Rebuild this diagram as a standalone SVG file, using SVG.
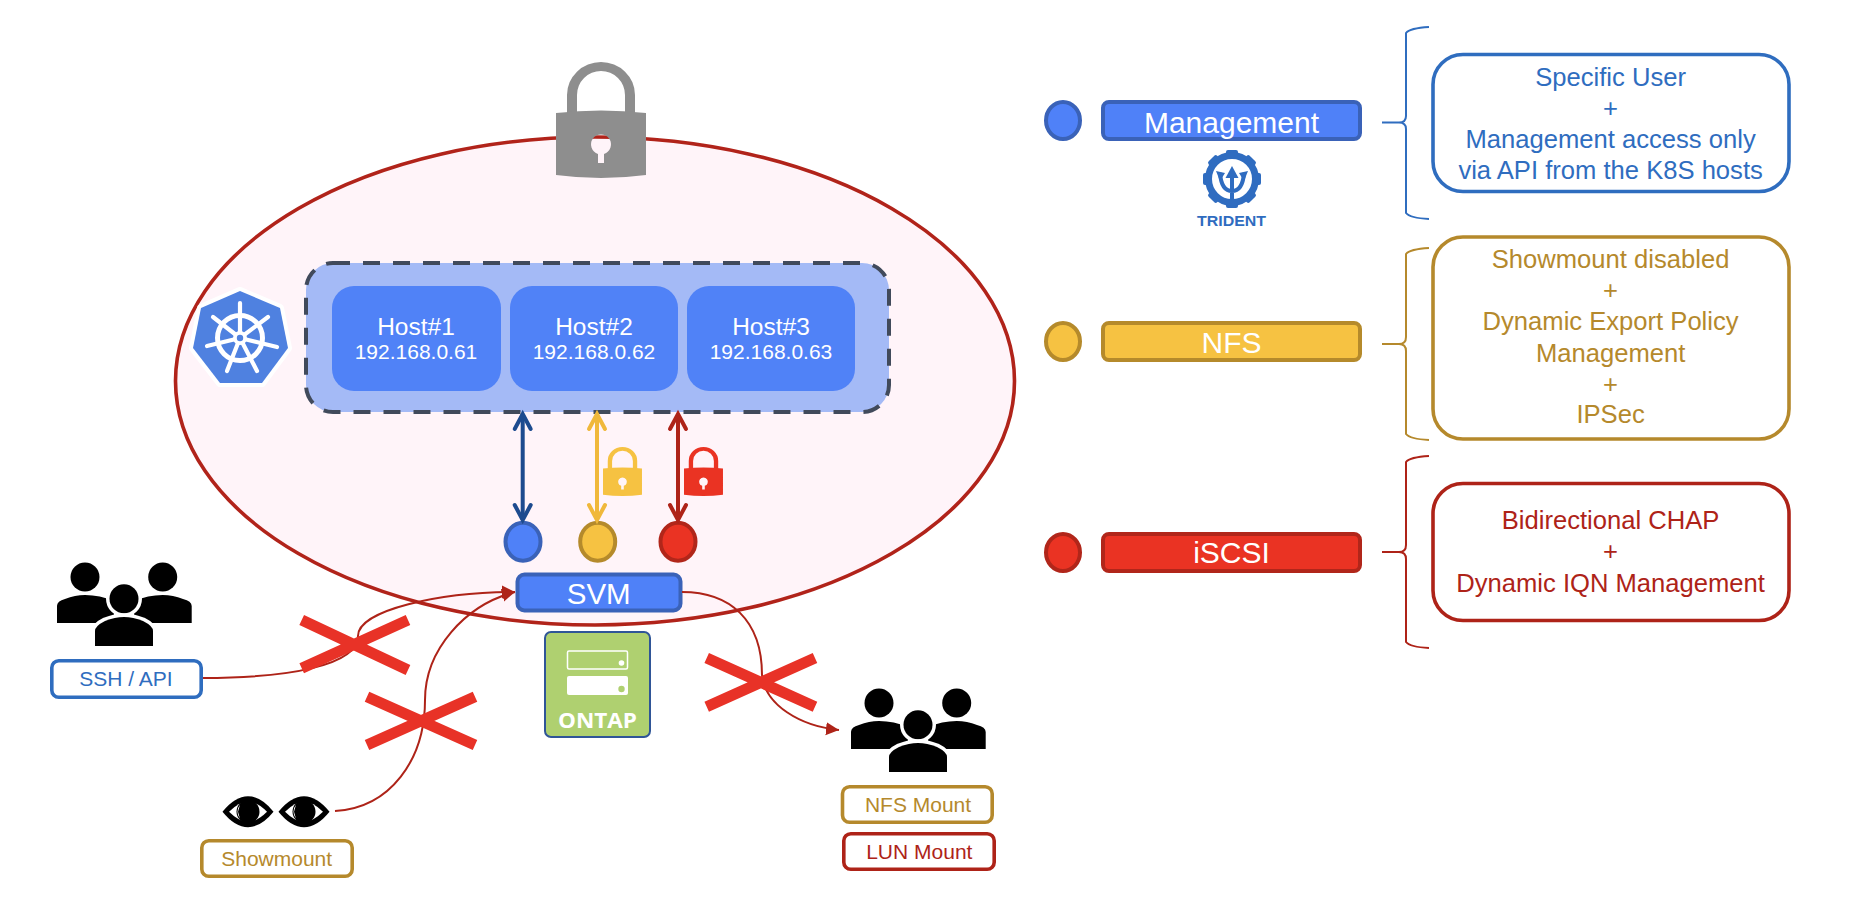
<svg xmlns="http://www.w3.org/2000/svg" width="1866" height="898" viewBox="0 0 1866 898">
<style>
text{font-family:"Liberation Sans",Arial,sans-serif;text-anchor:middle}
.host{fill:#5082f7}
.ht{fill:#fff;font-size:24.5px}
.ip{fill:#fff;font-size:21px}
.bar{stroke-width:4}
.bt{fill:#fff;font-size:30px}
.b{fill:#4f81f8;stroke:#3a62b8}
.y{fill:#f6c242;stroke:#b58a2b}
.r{fill:#ea3323;stroke:#b1261a}
.dot{stroke-width:4}
.lab{fill:#fff;stroke-width:3.6}
.lt{font-size:21px}
.info{fill:#fff;stroke-width:3.6}
.it{font-size:25.6px}
.cb{stroke:#2f6dbf}.cy{stroke:#b5892c}.cr{stroke:#ae2318}
.tb{fill:#2f6dbf}.ty{fill:#b5892c}.tr{fill:#ae2318}
.brace{fill:none;stroke-width:2}
.curve{fill:none;stroke:#ae2318;stroke-width:2}
.x{stroke:#e83227;stroke-width:11}
.dbl{fill:none;stroke-width:4}
</style>
<defs>
<marker id="ab" markerUnits="userSpaceOnUse" markerWidth="24" markerHeight="24" refX="18" refY="12" orient="auto-start-reverse" viewBox="0 0 24 24"><path d="M3,4 L18,12 L3,20" fill="none" stroke="#1d4b8f" stroke-width="4" stroke-linecap="round"/></marker>
<marker id="ay" markerUnits="userSpaceOnUse" markerWidth="24" markerHeight="24" refX="18" refY="12" orient="auto-start-reverse" viewBox="0 0 24 24"><path d="M3,4 L18,12 L3,20" fill="none" stroke="#f0b83b" stroke-width="4" stroke-linecap="round"/></marker>
<marker id="ar" markerUnits="userSpaceOnUse" markerWidth="24" markerHeight="24" refX="18" refY="12" orient="auto-start-reverse" viewBox="0 0 24 24"><path d="M3,4 L18,12 L3,20" fill="none" stroke="#ae2318" stroke-width="4" stroke-linecap="round"/></marker>
<marker id="tip" markerUnits="userSpaceOnUse" markerWidth="14" markerHeight="14" refX="13" refY="7" orient="auto" viewBox="0 0 14 14"><path d="M0,0.5 L13,7 L0,13.5 Z" fill="#ae2318"/></marker>
<g id="lock-shape">
<path d="M567,114 V95 A34,33 0 0 1 635,95 V114 H625 V95 A24,24 0 0 0 577,95 V114 Z"/>
<path fill-rule="evenodd" d="M556,113 Q601,108 646,113 V175 Q601,181 556,175 Z M598,154 A10,10 0 1 1 604,154 V163 H598 Z"/>
</g>
<g id="people">
<circle cx="85" cy="577" r="14.5"/>
<circle cx="162.7" cy="577" r="14.5"/>
<path d="M57,623 V606 Q57,601 65,599 Q75,595 85,595 Q100,595 114,601 V623 Z"/>
<path d="M191.7,623 V606 Q191.7,601 183,599 Q173,595 162.7,595 Q148,595 134,601 V623 Z"/>
<circle cx="124" cy="598.7" r="14.5" stroke="#fff" stroke-width="7" paint-order="stroke"/>
<path d="M95,646 V631 Q95,626 105,621 Q115,617 124,617 Q133,617 143,621 Q153,626 153,631 V646 Z" stroke="#fff" stroke-width="7" paint-order="stroke"/>
<rect x="85" y="646" width="80" height="6" fill="#fff"/>
</g>
<g id="eye">
<path d="M-25.5,0 Q-13,-15.5 0,-15.5 Q13,-15.5 25.5,0 Q13,15.5 0,15.5 Q-13,15.5 -25.5,0 Z"/>
<path d="M-19,0 Q-9,-10 0,-10 Q9,-10 19,0 Q9,10 0,10 Q-9,10 -19,0 Z" fill="#fff"/>
<circle r="11.5"/>
<path d="M-8,-7 A11,11 0 0 0 -8,7 L-10,0 Z" fill="#fff"/>
</g>
</defs>

<g id="zone"><ellipse cx="595" cy="381" rx="419.5" ry="244" fill="#fff4f9" stroke="#b1231a" stroke-width="3.6"/></g>
<g id="big-lock" fill="#8e8e8e"><use href="#lock-shape"/></g>

<g id="k8s-logo">
<polygon points="240,291 280,308 288,348 262,383 220,383 193,348 201,308" fill="#4f81e0" stroke="#fff" stroke-width="8" stroke-linejoin="round" paint-order="stroke"/>
<circle cx="240" cy="338" r="22.5" fill="none" stroke="#fff" stroke-width="5"/>
<g stroke="#fff" stroke-width="4.2" stroke-linecap="round">
<line x1="240" y1="338" x2="240" y2="303"/>
<line x1="240" y1="338" x2="268" y2="317"/>
<line x1="240" y1="338" x2="277" y2="347"/>
<line x1="240" y1="338" x2="257" y2="371"/>
<line x1="240" y1="338" x2="227" y2="371"/>
<line x1="240" y1="338" x2="207" y2="346"/>
<line x1="240" y1="338" x2="213" y2="317"/>
</g>
<circle cx="240" cy="338" r="7" fill="#fff"/>
<circle cx="240" cy="338" r="3.2" fill="#4f81e0"/>
</g>

<g id="cluster"><rect x="306" y="263" width="583" height="149" rx="27" fill="#a4baf6" stroke="#414a5b" stroke-width="4" stroke-dasharray="17 13"/></g>
<g id="host1"><rect class="host" x="332" y="286" width="169" height="105" rx="22"/><text class="ht" x="416" y="335">Host#1</text><text class="ip" x="416" y="359">192.168.0.61</text></g>
<g id="host2"><rect class="host" x="510" y="286" width="168" height="105" rx="22"/><text class="ht" x="594" y="335">Host#2</text><text class="ip" x="594" y="359">192.168.0.62</text></g>
<g id="host3"><rect class="host" x="687" y="286" width="168" height="105" rx="22"/><text class="ht" x="771" y="335">Host#3</text><text class="ip" x="771" y="359">192.168.0.63</text></g>

<g id="lif-mgmt"><ellipse class="b dot" cx="523" cy="541.7" rx="17.5" ry="19"/></g>
<g id="lif-nfs"><ellipse class="y dot" cx="597.7" cy="541.7" rx="17.5" ry="19"/></g>
<g id="lif-iscsi"><ellipse class="r dot" cx="678" cy="541.7" rx="17.5" ry="19"/></g>
<g id="lock-nfs" fill="#f6c242"><use href="#lock-shape" transform="translate(603,447) scale(0.433,0.422) translate(-556,-62)"/></g>
<g id="lock-iscsi" fill="#ea3323"><use href="#lock-shape" transform="translate(684,447) scale(0.433,0.422) translate(-556,-62)"/></g>

<g id="svm"><rect class="b bar" x="517.5" y="574.5" width="163" height="36" rx="7"/><text class="bt" style="font-size:29.5px" x="598.7" y="603.5">SVM</text></g>

<g id="ontap">
<rect x="545" y="632" width="105" height="105" rx="6" fill="#afd070" stroke="#2f5597" stroke-width="2"/>
<rect x="567.5" y="651" width="60" height="18" rx="1.5" fill="none" stroke="#fff" stroke-width="1.5"/>
<circle cx="621.5" cy="663" r="2.8" fill="#fff"/>
<rect x="567" y="676" width="61" height="19" rx="2" fill="#fff"/>
<circle cx="621.5" cy="689" r="3.2" fill="#afd070"/>
<text x="597.5" y="728" fill="#fff" style="font-family:'Open Sans',sans-serif;font-weight:700;font-size:21px" textLength="79" lengthAdjust="spacingAndGlyphs">ONTAP</text>
</g>

<g id="connectors">
<path class="dbl" stroke="#1d4b8f" d="M522.7,414 V520" marker-start="url(#ab)" marker-end="url(#ab)"/>
<path class="dbl" stroke="#f0b83b" d="M597,414 V520" marker-start="url(#ay)" marker-end="url(#ay)"/>
<path class="dbl" stroke="#ae2318" d="M678,414 V520" marker-start="url(#ar)" marker-end="url(#ar)"/>
<path class="curve" d="M203,678 C290,678 358,665 358,636 C358,610 440,592 515,592" marker-end="url(#tip)"/>
<path class="curve" d="M335,811 C390,808 425,760 425,700 C425,650 465,605 515,592" marker-end="url(#tip)"/>
<path class="curve" d="M682,592 C730,592 762,620 762,675 C765,705 800,726 839,730" marker-end="url(#tip)"/>
</g>

<g id="cross-ssh"><path class="x" d="M301.7,620 L408,670 M408,620 L301.7,668.3"/></g>
<g id="cross-showmount"><path class="x" d="M367,696.7 L475,745 M475,696.7 L367,745"/></g>
<g id="cross-mount"><path class="x" d="M706.7,658 L815,706.7 M815,658 L706.7,706.7"/></g>

<g id="users-ssh"><use href="#people"/><rect class="lab cb" x="51.8" y="660.8" width="149.4" height="36.4" rx="7"/><text class="lt tb" x="126" y="685.7">SSH / API</text></g>
<g id="users-showmount"><use href="#eye" transform="translate(248,811.7)"/><use href="#eye" transform="translate(304,811.7)"/><rect class="lab cy" x="201.8" y="840.8" width="150.4" height="35.4" rx="7"/><text class="lt ty" x="276.7" y="865.7">Showmount</text></g>
<g id="users-mount"><use href="#people" transform="translate(794,126)"/>
<rect class="lab cy" x="842.5" y="786.8" width="149.7" height="35.4" rx="7"/><text class="lt ty" x="918" y="811.7">NFS Mount</text>
<rect class="lab cr" x="843.8" y="833.8" width="150.4" height="35.4" rx="7"/><text class="lt tr" x="919.3" y="859">LUN Mount</text></g>

<g id="legend-mgmt"><ellipse class="b dot" cx="1063" cy="120.5" rx="17" ry="18.5"/><rect class="b bar" x="1103" y="102" width="257" height="37" rx="6"/><text class="bt" x="1231.5" y="132.7">Management</text></g>
<g id="trident" fill="#2f6cc0">
<g>
<rect x="1226" y="150" width="12" height="10" rx="2"/>
<rect x="1226" y="150" width="12" height="10" rx="2" transform="rotate(45 1232 179)"/>
<rect x="1226" y="150" width="12" height="10" rx="2" transform="rotate(90 1232 179)"/>
<rect x="1226" y="150" width="12" height="10" rx="2" transform="rotate(135 1232 179)"/>
<rect x="1226" y="150" width="12" height="10" rx="2" transform="rotate(180 1232 179)"/>
<rect x="1226" y="150" width="12" height="10" rx="2" transform="rotate(225 1232 179)"/>
<rect x="1226" y="150" width="12" height="10" rx="2" transform="rotate(270 1232 179)"/>
<rect x="1226" y="150" width="12" height="10" rx="2" transform="rotate(315 1232 179)"/>
</g>
<circle cx="1232" cy="179" r="23.5" fill="#fff" stroke="#2f6cc0" stroke-width="7"/>
<path d="M1232,166 L1238.5,178 H1225.5 Z"/>
<path d="M1232,175 V203 M1220,173 C1221,186 1225,191 1232,191 C1239,191 1243,186 1244,173" fill="none" stroke="#2f6cc0" stroke-width="4"/>
<path d="M1216,171 L1225,173 L1220,181 Z M1248,171 L1239,173 L1244,181 Z"/>
<text x="1231.5" y="226" style="font-size:15.5px;font-weight:700" textLength="69" lengthAdjust="spacingAndGlyphs">TRIDENT</text>
</g>
<g id="legend-nfs"><ellipse class="y dot" cx="1063" cy="341.5" rx="17" ry="18.5"/><rect class="y bar" x="1103" y="323" width="257" height="37" rx="6"/><text class="bt" x="1231.5" y="353">NFS</text></g>
<g id="legend-iscsi"><ellipse class="r dot" cx="1063" cy="552.5" rx="17" ry="18.5"/><rect class="r bar" x="1103" y="534" width="257" height="37" rx="6"/><text class="bt" x="1231.5" y="563">iSCSI</text></g>

<g id="brace-mgmt"><path class="brace cb" d="M1429,27 Q1410,28 1406,33 V116 Q1406,122.500 1399,122.500 H1382 H1399 Q1406,122.500 1406,129 V213 Q1410,218 1429,219"/></g>
<g id="brace-nfs"><path class="brace cy" d="M1429,248 Q1410,249 1406,254 V337 Q1406,344 1399,344 H1382 H1399 Q1406,344 1406,351 V434 Q1410,439 1429,440"/></g>
<g id="brace-iscsi"><path class="brace cr" d="M1429,456 Q1410,457 1406,462 V545 Q1406,552 1399,552 H1382 H1399 Q1406,552 1406,559 V642 Q1410,647 1429,648"/></g>

<g id="info-mgmt"><rect class="info cb" x="1433" y="54.5" width="356" height="137" rx="30"/>
<g class="it tb"><text x="1610.6" y="85.7">Specific User</text><text x="1610.6" y="116.7">+</text><text x="1610.6" y="147.7">Management access only</text><text x="1610.6" y="179">via API from the K8S hosts</text></g></g>
<g id="info-nfs"><rect class="info cy" x="1433" y="237" width="356" height="202" rx="30"/>
<g class="it ty"><text x="1610.6" y="268">Showmount disabled</text><text x="1610.6" y="299">+</text><text x="1610.6" y="330">Dynamic Export Policy</text><text x="1610.6" y="362">Management</text><text x="1610.6" y="393">+</text><text x="1610.6" y="423">IPSec</text></g></g>
<g id="info-iscsi"><rect class="info cr" x="1433" y="483.5" width="356" height="137" rx="30"/>
<g class="it tr"><text x="1610.6" y="529">Bidirectional CHAP</text><text x="1610.6" y="560">+</text><text x="1610.6" y="591.7">Dynamic IQN Management</text></g></g>
</svg>
